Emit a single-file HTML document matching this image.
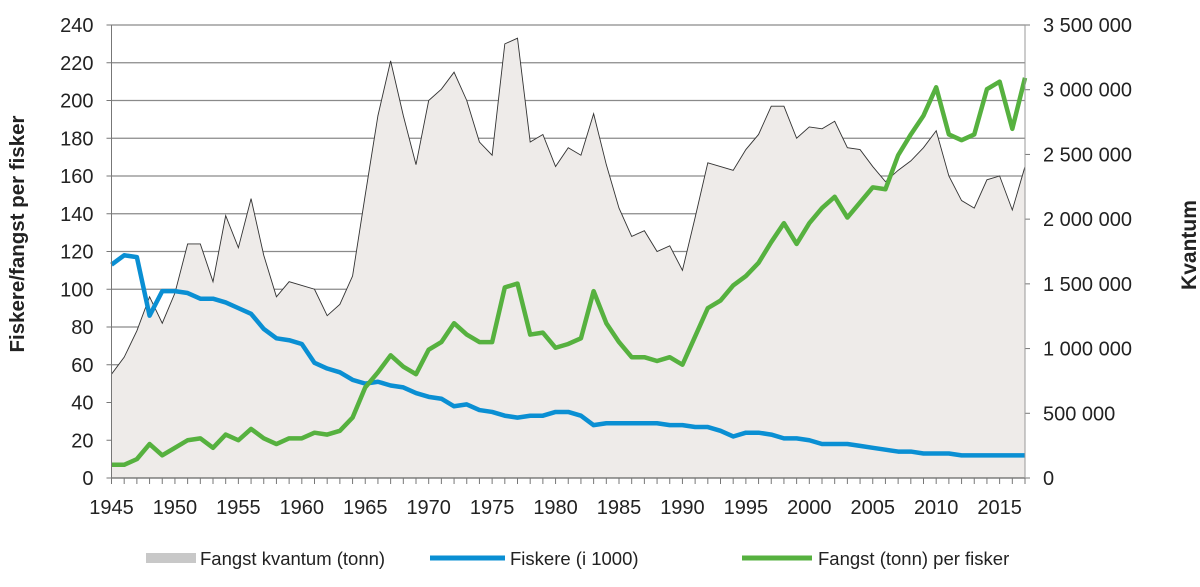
<!DOCTYPE html>
<html><head><meta charset="utf-8"><style>
html,body{margin:0;padding:0;background:#fff;}
svg{display:block;font-family:"Liberation Sans",Arial,sans-serif;}
</style></head><body>
<svg id="chart" width="1200" height="587" viewBox="0 0 1200 587" xmlns="http://www.w3.org/2000/svg">
<g id="grid"></g>
<g id="area"></g>
<g id="lines"></g>
<g id="axes"></g>
<text x="24" y="234" transform="rotate(-90 24 234)" text-anchor="middle" font-size="20.5" font-weight="bold" fill="#222">Fiskere/fangst per fisker</text>
<text x="1196" y="245" transform="rotate(-90 1196 245)" text-anchor="middle" font-size="21" font-weight="bold" fill="#222">Kvantum</text>
<g>
<rect x="146" y="553" width="50" height="10" fill="#c8c8c8"/>
<text x="200" y="565" font-size="18.5" fill="#222">Fangst kvantum (tonn)</text>
<line x1="430" y1="558" x2="505" y2="558" stroke="#0a8fd3" stroke-width="5"/>
<text x="510" y="565" font-size="18.5" fill="#222">Fiskere (i 1000)</text>
<line x1="742" y1="558" x2="812" y2="558" stroke="#56b13f" stroke-width="5"/>
<text x="818" y="565" font-size="18.5" fill="#222">Fangst (tonn) per fisker</text>
</g>
</svg>
<script>
const startYear = 1945;
const volumeUnits = [55,64,78,96,82,98,124,124,104,139,122,148,118,96,104,102,100,86,92,107,150,192,221,192,166,200,206,215,200,178,171,230,233,178,182,165,175,171,193,166,143,128,131,120,123,110,138,167,165,163,174,182,197,197,180,186,185,189,175,174,165,157,163,168,175,184,160,147,143,158,160,142,165];
const volumeTonnes = volumeUnits.map(v => Math.round(v * 3500000 / 240));
const fishers = [113,118,117,86,99,99,98,95,95,93,90,87,79,74,73,71,61,58,56,52,50,51,49,48,45,43,42,38,39,36,35,33,32,33,33,35,35,33,28,29,29,29,29,29,28,28,27,27,25,22,24,24,23,21,21,20,18,18,18,17,16,15,14,14,13,13,13,12,12,12,12,12,12];
const catchPerFisher = [7,7,10,18,12,16,20,21,16,23,20,26,21,18,21,21,24,23,25,32,48,56,65,59,55,68,72,82,76,72,72,101,103,76,77,69,71,74,99,82,72,64,64,62,64,60,75,90,94,102,107,114,125,135,124,135,143,149,138,146,154,153,171,182,192,207,182,179,182,206,210,185,212];
const leftTicks = [0,20,40,60,80,100,120,140,160,180,200,220,240];
const rightTicks = [0,500000,1000000,1500000,2000000,2500000,3000000,3500000];
const yearLabels = [1945,1950,1955,1960,1965,1970,1975,1980,1985,1990,1995,2000,2005,2010,2015];

const NS = "http://www.w3.org/2000/svg";
const X0 = 111.5, X1 = 1025, Y0 = 478, Y1 = 25;
const nYears = 72;
const xs = yr => X0 + (yr - startYear) * (X1 - X0) / nYears;
const yl = v => Y0 - v * (Y0 - Y1) / 240;
const yr_ = v => Y0 - v * (Y0 - Y1) / 3500000;
function mk(tag, attrs, parent){const e=document.createElementNS(NS,tag);for(const k in attrs)e.setAttribute(k,attrs[k]);parent.appendChild(e);return e;}
const grid = document.getElementById('grid'), area = document.getElementById('area'), lines = document.getElementById('lines'), axes = document.getElementById('axes');

leftTicks.forEach(t => {
  if (t > 0) {
    const g = mk('line',{x1:X0,x2:X1,y1:yl(t),y2:yl(t),stroke:'#8a8a8a','stroke-width':1.3},grid);
    
    
  }
  const tk = mk('line',{x1:X0-5,x2:X0,y1:yl(t),y2:yl(t),stroke:'#777'},axes);
  
  
  const lb = mk('text',{x:X0-18,y:yl(t)+7,'text-anchor':'end','font-size':20,fill:'#222'},axes);
  lb.textContent = t;
  
  
});
rightTicks.forEach(t => {
  const tk = mk('line',{x1:X1,x2:X1+5,y1:yr_(t),y2:yr_(t),stroke:'#777'},axes);
  
  
  const lb = mk('text',{x:X1+18,y:yr_(t)+7,'font-size':20,fill:'#222'},axes);
  lb.textContent = t.toLocaleString('en-US').replace(/,/g,' ');
  
  
});

let d = `M${xs(startYear)},${Y0}`;
volumeTonnes.forEach((v,i)=>{ d += ` L${xs(startYear+i)},${yr_(v)}`; });
d += ` L${xs(startYear+volumeTonnes.length-1)},${Y0} Z`;
const ap = mk('path',{d:d,fill:'#eeebe9',stroke:'none'},area);


const al = mk('polyline',{points:volumeTonnes.map((v,i)=>`${xs(startYear+i)},${yr_(v)}`).join(' '),fill:'none',stroke:'#333','stroke-width':0.9},area);



const ax = mk('line',{x1:X0,x2:X1,y1:Y0,y2:Y0,stroke:'#666','stroke-width':1.3},axes);


const ayl = mk('line',{x1:X0,x2:X0,y1:Y1,y2:Y0,stroke:'#777'},axes);


const ayr = mk('line',{x1:X1,x2:X1,y1:Y1,y2:Y0,stroke:'#999'},axes);


for (let i=0;i<=nYears;i++){
  const tk = mk('line',{x1:xs(startYear+i),x2:xs(startYear+i),y1:Y0,y2:Y0+6,stroke:'#777'},axes);
  
  
}
yearLabels.forEach(y=>{
  const lb = mk('text',{x:xs(y),y:514,'text-anchor':'middle','font-size':20,fill:'#222'},axes);
  lb.textContent = y;
  
  
});

const fl = mk('polyline',{points:fishers.map((v,i)=>`${xs(startYear+i)},${yl(v)}`).join(' '),fill:'none',stroke:'#0a8fd3','stroke-width':4.5,'stroke-linejoin':'round'},lines);


const gl = mk('polyline',{points:catchPerFisher.map((v,i)=>`${xs(startYear+i)},${yl(v)}`).join(' '),fill:'none',stroke:'#56b13f','stroke-width':4.5,'stroke-linejoin':'round'},lines);


</script>
</body></html>
